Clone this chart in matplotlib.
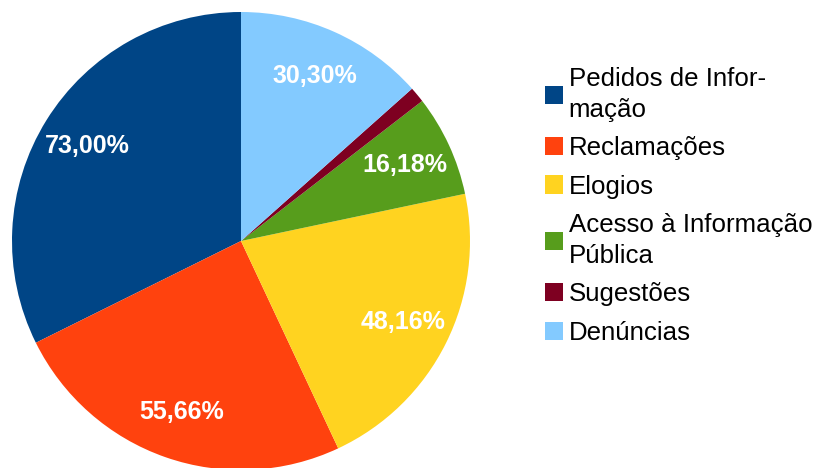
import numpy as np
from matplotlib import pyplot as plt
from matplotlib.patches import Patch

plt.rcParams["font.family"] = ["Liberation Sans", "DejaVu Sans"]

# data
categories = ["Pedidos de Infor-\nmação", "Reclamações", "Elogios",
              "Acesso à Informação\nPública", "Sugestões", "Denúncias"]
values = [73.00, 55.66, 48.16, 16.18, 2.5, 30.30]
value_labels = ["73,00%", "55,66%", "48,16%", "16,18%", "", "30,30%"]
colors = ["#004586", "#ff420e", "#ffd320", "#579d1c", "#7e0021", "#83caff"]

fig = plt.figure(figsize=(8.21, 4.68), dpi=100)
ax = fig.add_axes([12/821, -2/468, 458/821, 458/468])

wedges, _ = ax.pie(values, colors=colors, startangle=90, counterclock=True,
                   wedgeprops=dict(linewidth=0))
ax.set_xlim(-1, 1)
ax.set_ylim(-1, 1)
ax.set_aspect("equal")

#labels inside the slices
for w, lab in zip(wedges, value_labels):
   if lab == "":
      continue
   mid = np.deg2rad(0.5*(w.theta1 + w.theta2))
   ax.text(0.79*np.cos(mid), 0.79*np.sin(mid), lab, ha="center", va="center",
           color="white", fontsize=18, fontweight="bold")

handles = [Patch(facecolor=c, edgecolor="none") for c in colors]
leg = fig.legend(handles, categories, loc="upper left", bbox_to_anchor=(545/821, 1 - 67/468),
                 frameon=False, fontsize=18.6, handlelength=0.7, handleheight=0.7,
                 handletextpad=0.22, labelspacing=0.56, borderpad=0, borderaxespad=0)
for t in leg.get_texts():
   t.set_linespacing(1.35)

fig.savefig("out.png", dpi=100)
